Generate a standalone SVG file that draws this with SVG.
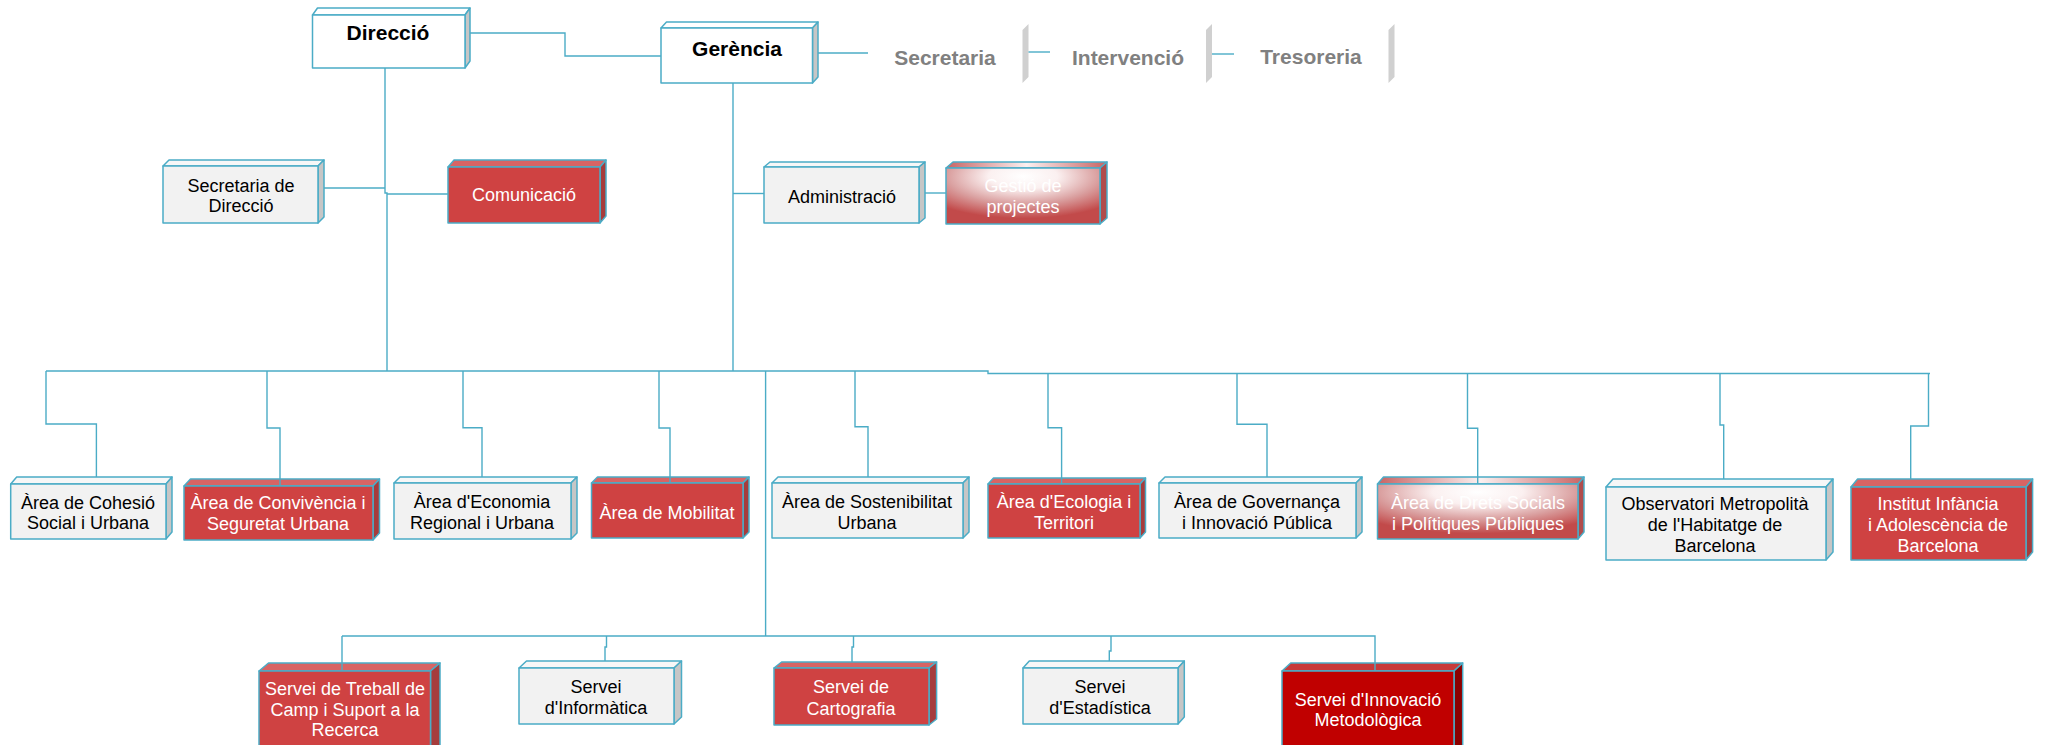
<svg xmlns="http://www.w3.org/2000/svg" width="2045" height="745" viewBox="0 0 2045 745">
<defs>
<radialGradient id="glow" cx="0.5" cy="0.15" r="0.75">
<stop offset="0" stop-color="#ffffff"/>
<stop offset="0.3" stop-color="#fbf0f0"/>
<stop offset="0.65" stop-color="#daa0a0"/>
<stop offset="1" stop-color="#c24a4a"/>
</radialGradient>
<linearGradient id="tglow" x1="0" y1="0" x2="1" y2="0">
<stop offset="0" stop-color="#c86464"/>
<stop offset="0.5" stop-color="#fbf0f0"/>
<stop offset="1" stop-color="#c86464"/>
</linearGradient>
<style>
.e{stroke:#4bacc6;stroke-width:1.5;stroke-linejoin:round}
.fw{fill:#ffffff}.fg{fill:#f2f2f2}.fr{fill:#cf4242}.fx{fill:#c00000}.fgl{fill:url(#glow)}
.tw{fill:#ffffff}.tg{fill:#f7f7f7}.tr{fill:#d86464}.tx{fill:#c83a3a}.tgl{fill:url(#tglow)}
.sg{fill:#c6c6c6}.sr{fill:#a63c3c}.sx{fill:#8c0000}.sgl{fill:#b04c4c}
.bar{fill:#d0d0d0}
.c{fill:none;stroke:#4bacc6;stroke-width:1.4}
text{font-family:"Liberation Sans",Arial,sans-serif;font-size:18px;text-anchor:middle;fill:#000}
.b{font-weight:bold;font-size:21px}
.gy{font-weight:bold;font-size:21px;fill:#808080}
.w{fill:#ffffff}
</style>
</defs>
<rect width="2045" height="745" fill="#ffffff"/>

<g id="direccio">
<polygon class="e tw" points="312.5,15 317.5,8 470,8 465,15"/>
<polygon class="e sg" points="465,15 470,8 470,61 465,68"/>
<rect class="e fw" x="312.5" y="15" width="152.5" height="53"/>
<text class="b" x="388" y="40">Direcció</text>
</g>
<g id="gerencia">
<polygon class="e tw" points="661,28 666.5,22 818,22 812.5,28"/>
<polygon class="e sg" points="812.5,28 818,22 818,77 812.5,83"/>
<rect class="e fw" x="661" y="28" width="151.5" height="55"/>
<text class="b" x="737" y="55.5">Gerència</text>
</g>
<g id="secretaria">
<polygon class="bar" points="1022.5,30 1028.5,24 1028.5,77 1022.5,83"/>
<text class="gy" x="945" y="65">Secretaria</text>
</g>
<g id="intervencio">
<polygon class="bar" points="1206,30 1212,24 1212,77 1206,83"/>
<text class="gy" x="1128" y="65">Intervenció</text>
</g>
<g id="tresoreria">
<polygon class="bar" points="1388.5,30 1394.5,24 1394.5,77 1388.5,83"/>
<text class="gy" x="1311" y="64">Tresoreria</text>
</g>

<g id="secretaria-direccio">
<polygon class="e tg" points="163,166 169,160 324,160 318,166"/>
<polygon class="e sg" points="318,166 324,160 324,217 318,223"/>
<rect class="e fg" x="163" y="166" width="155" height="57"/>
<text x="241" y="191.5">Secretaria de</text>
<text x="241" y="211.5">Direcció</text>
</g>
<g id="comunicacio">
<polygon class="e tr" points="448,167 454,160 606,160 600,167"/>
<polygon class="e sr" points="600,167 606,160 606,216 600,223"/>
<rect class="e fr" x="448" y="167" width="152" height="56"/>
<text class="w" x="524" y="201">Comunicació</text>
</g>
<g id="administracio">
<polygon class="e tg" points="764,167 770,162 925,162 919,167"/>
<polygon class="e sg" points="919,167 925,162 925,218 919,223"/>
<rect class="e fg" x="764" y="167" width="155" height="56"/>
<text x="842" y="202.5">Administració</text>
</g>
<g id="gestio-projectes">
<polygon class="e tgl" points="946,168 953,162 1107,162 1100,168"/>
<polygon class="e sgl" points="1100,168 1107,162 1107,218 1100,224"/>
<rect class="e fgl" x="946" y="168" width="154" height="56"/>
<text class="w" x="1023" y="191.5">Gestió de</text>
<text class="w" x="1023" y="212.5">projectes</text>
</g>

<g id="area-cohesio">
<polygon class="e tg" points="10.7,484 16.7,477 172,477 166,484"/>
<polygon class="e sg" points="166,484 172,477 172,532 166,539"/>
<rect class="e fg" x="10.7" y="484" width="155.3" height="55"/>
<text x="88" y="508.5">Àrea de Cohesió</text>
<text x="88" y="529">Social i Urbana</text>
</g>
<g id="area-convivencia">
<polygon class="e tr" points="184,486 190.5,479 379.5,479 373,486"/>
<polygon class="e sr" points="373,486 379.5,479 379.5,533 373,540"/>
<rect class="e fr" x="184" y="486" width="189" height="54"/>
<text class="w" x="278" y="509">Àrea de Convivència i</text>
<text class="w" x="278" y="530">Seguretat Urbana</text>
</g>
<g id="area-economia">
<polygon class="e tg" points="394,483 400,477 577,477 571,483"/>
<polygon class="e sg" points="571,483 577,477 577,533 571,539"/>
<rect class="e fg" x="394" y="483" width="177" height="56"/>
<text x="482" y="508">Àrea d'Economia</text>
<text x="482" y="529">Regional i Urbana</text>
</g>
<g id="area-mobilitat">
<polygon class="e tr" points="591.5,483 597.5,477 749,477 743,483"/>
<polygon class="e sr" points="743,483 749,477 749,532 743,538"/>
<rect class="e fr" x="591.5" y="483" width="151.5" height="55"/>
<text class="w" x="667" y="519">Àrea de Mobilitat</text>
</g>
<g id="area-sostenibilitat">
<polygon class="e tg" points="772,483 778,477 969,477 963,483"/>
<polygon class="e sg" points="963,483 969,477 969,532 963,538"/>
<rect class="e fg" x="772" y="483" width="191" height="55"/>
<text x="867" y="508">Àrea de Sostenibilitat</text>
<text x="867" y="528.5">Urbana</text>
</g>
<g id="area-ecologia">
<polygon class="e tr" points="988,484 993.5,478 1145.5,478 1140,484"/>
<polygon class="e sr" points="1140,484 1145.5,478 1145.5,532 1140,538"/>
<rect class="e fr" x="988" y="484" width="152" height="54"/>
<text class="w" x="1064" y="508">Àrea d'Ecologia i</text>
<text class="w" x="1064" y="529">Territori</text>
</g>
<g id="area-governanca">
<polygon class="e tg" points="1159,483 1165,477 1362,477 1356,483"/>
<polygon class="e sg" points="1356,483 1362,477 1362,532 1356,538"/>
<rect class="e fg" x="1159" y="483" width="197" height="55"/>
<text x="1257" y="508">Àrea de Governança</text>
<text x="1257" y="528.5">i Innovació Pública</text>
</g>
<g id="area-drets-socials">
<polygon class="e tgl" points="1377.5,484 1383.5,477 1584,477 1578,484"/>
<polygon class="e sgl" points="1578,484 1584,477 1584,532 1578,539"/>
<rect class="e fgl" x="1377.5" y="484" width="200.5" height="55"/>
<text class="w" x="1478" y="509">Àrea de Drets Socials</text>
<text class="w" x="1478" y="529.5">i Polítiques Públiques</text>
</g>
<g id="observatori">
<polygon class="e tg" points="1606,487 1613,479 1833,479 1826,487"/>
<polygon class="e sg" points="1826,487 1833,479 1833,552 1826,560"/>
<rect class="e fg" x="1606" y="487" width="220" height="73"/>
<text x="1715" y="510">Observatori Metropolità</text>
<text x="1715" y="531">de l'Habitatge de</text>
<text x="1715" y="552">Barcelona</text>
</g>
<g id="institut-infancia">
<polygon class="e tr" points="1851,487 1857.6,479 2032.6,479 2026,487"/>
<polygon class="e sr" points="2026,487 2032.6,479 2032.6,552 2026,560"/>
<rect class="e fr" x="1851" y="487" width="175" height="73"/>
<text class="w" x="1938" y="510">Institut Infància</text>
<text class="w" x="1938" y="531">i Adolescència de</text>
<text class="w" x="1938" y="552">Barcelona</text>
</g>

<g id="servei-treball-camp">
<polygon class="e tr" points="259,671 268.5,663 440,663 430.5,671"/>
<polygon class="e sr" points="430.5,671 440,663 440,752 430.5,760"/>
<rect class="e fr" x="259" y="671" width="171.5" height="89"/>
<text class="w" x="345" y="694.5">Servei de Treball de</text>
<text class="w" x="345" y="715.5">Camp i Suport a la</text>
<text class="w" x="345" y="736">Recerca</text>
</g>
<g id="servei-informatica">
<polygon class="e tg" points="519,668 526.5,661 681.5,661 674,668"/>
<polygon class="e sg" points="674,668 681.5,661 681.5,717 674,724"/>
<rect class="e fg" x="519" y="668" width="155" height="56"/>
<text x="596" y="693">Servei</text>
<text x="596" y="713.5">d'Informàtica</text>
</g>
<g id="servei-cartografia">
<polygon class="e tr" points="774,668 781.6,662 936.6,662 929,668"/>
<polygon class="e sr" points="929,668 936.6,662 936.6,719 929,725"/>
<rect class="e fr" x="774" y="668" width="155" height="57"/>
<text class="w" x="851" y="693">Servei de</text>
<text class="w" x="851" y="714.5">Cartografia</text>
</g>
<g id="servei-estadistica">
<polygon class="e tg" points="1023,668 1029.3,661 1184.3,661 1178,668"/>
<polygon class="e sg" points="1178,668 1184.3,661 1184.3,717 1178,724"/>
<rect class="e fg" x="1023" y="668" width="155" height="56"/>
<text x="1100" y="693">Servei</text>
<text x="1100" y="713.5">d'Estadística</text>
</g>
<g id="servei-innovacio">
<polygon class="e tx" points="1282,671 1290.7,663 1462.7,663 1454,671"/>
<polygon class="e sx" points="1454,671 1462.7,663 1462.7,752 1454,760"/>
<rect class="e fx" x="1282" y="671" width="172" height="89"/>
<text class="w" x="1368" y="705.5">Servei d'Innovació</text>
<text class="w" x="1368" y="726">Metodològica</text>
</g>

<g id="connectors">
<path class="c" d="M470,33 H565 V56 H661"/>
<path class="c" d="M818,53 H868"/>
<path class="c" d="M1028.5,52 H1050"/>
<path class="c" d="M1212,54 H1234"/>
<path class="c" d="M385,68 V193 H387 V371"/>
<path class="c" d="M324,188 H385"/>
<path class="c" d="M387,194 H448"/>
<path class="c" d="M733,83 V371"/>
<path class="c" d="M733,193.5 H764"/>
<path class="c" d="M925,193 H946"/>
<path class="c" d="M46,371 H988 V373.5 H1930"/>
<path class="c" d="M46,371 V424 H96.4 V477"/>
<path class="c" d="M267,371 V428 H280 V486"/>
<path class="c" d="M463,371 V427.7 H482 V477"/>
<path class="c" d="M659,371 V428 H670 V483"/>
<path class="c" d="M855,371 V426.7 H868 V477"/>
<path class="c" d="M1048,373.5 V427.7 H1061.6 V484"/>
<path class="c" d="M1237,373.5 V424.3 H1267 V477"/>
<path class="c" d="M1467.5,373.5 V428.3 H1477.7 V484"/>
<path class="c" d="M1720,373.5 V425 H1723.7 V479"/>
<path class="c" d="M1928.5,373.5 V426 H1910.7 V479"/>
<path class="c" d="M765.6,371 V636"/>
<path class="c" d="M342,636 H1375 V671"/>
<path class="c" d="M342,636 V671"/>
<path class="c" d="M606.5,636 V647 H605 V661"/>
<path class="c" d="M853.5,636 V647 H852 V662"/>
<path class="c" d="M1111,636 V651 H1109.3 V661"/>
</g>
</svg>
